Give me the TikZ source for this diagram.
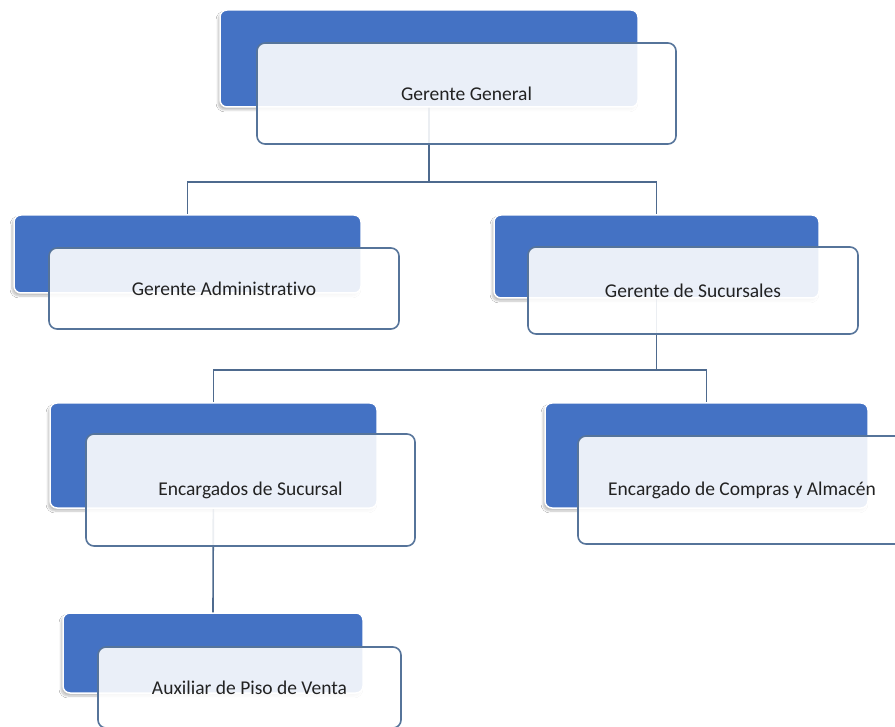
\documentclass[tikz,border=0pt]{standalone}
\usepackage{fontspec}
\setmainfont{Carlito}[Ligatures={NoCommon}]
\usetikzlibrary{shadows.blur}
\definecolor{tileblue}{HTML}{4472C4}
\definecolor{edgeblue}{HTML}{56749A}
\definecolor{linkblue}{HTML}{4E6A8E}
\definecolor{labelgray}{HTML}{222222}
\pgfdeclarelayer{links}
\pgfsetlayers{links,main}
\tikzset{
  backtile/.style={rectangle, rounded corners=7pt, fill=tileblue, draw=white,
    line width=1.5pt, inner sep=0pt, outer sep=0pt,
    blur shadow={shadow xshift=-2pt, shadow yshift=-3pt, shadow opacity=25, shadow blur steps=6}},
  fronttile/.style={rectangle, rounded corners=8pt, fill=white, fill opacity=0.89,
    text opacity=1, draw=edgeblue, draw opacity=1, line width=1.6pt, inner sep=0pt,
    outer sep=0pt, text=labelgray, font=\fontsize{19.5}{22}\selectfont},
  link/.style={draw=linkblue, line width=1.6pt}
}
\begin{document}
\begin{tikzpicture}[x=1pt,y=-1pt]
\clip (0,0) rectangle (895,727);

% Gerente General
\node[backtile, minimum width=418pt, minimum height=97pt] (bGG) at (429,58.5) {};
\node[fronttile, minimum width=419pt, minimum height=101pt] (wGG) at (466.5,93.5) {Gerente General};

% second level
\node[backtile, minimum width=347pt, minimum height=78pt] (bGA) at (187.5,254) {};
\node[fronttile, minimum width=350pt, minimum height=81pt] (wGA) at (224,288.5) {Gerente Administrativo};

\node[backtile, minimum width=325pt, minimum height=83pt] (bGS) at (656.5,256.5) {};
\node[fronttile, minimum width=330pt, minimum height=87pt] (wGS) at (693,290.5) {Gerente de Sucursales};

% third level
\node[backtile, minimum width=327pt, minimum height=105pt] (bES) at (213.5,455.5) {};
\node[fronttile, minimum width=329pt, minimum height=112pt] (wES) at (250.5,490) {Encargados de Sucursal};

\node[backtile, minimum width=323pt, minimum height=105pt] (bEC) at (706.5,455.5) {};
\node[fronttile, minimum width=328pt, minimum height=108pt] (wEC) at (742,490) {Encargado de Compras y Almacén};

% fourth level
\node[backtile, minimum width=300pt, minimum height=80pt] (bAP) at (213,653) {};
\node[fronttile, minimum width=303pt, minimum height=81pt] (wAP) at (249.5,687.5) {Auxiliar de Piso de Venta};

% page background and connectors, drawn behind the tiles
\coordinate (bus1) at (429,182);
\coordinate (bus2) at (656.5,370);
\begin{pgfonlayer}{links}
\fill[white] (0,0) rectangle (895,727);
\draw[link] (bGG.center) -- (bus1) -| (bGA.north);
\draw[link] (bus1) -| (bGS.north);
\draw[link] (bGS.center) -- (bus2) -| (bES.north);
\draw[link] (bus2) -| (bEC.north);
\draw[link] (bES.center) -- (bAP.north);
\end{pgfonlayer}
\end{tikzpicture}
\end{document}
